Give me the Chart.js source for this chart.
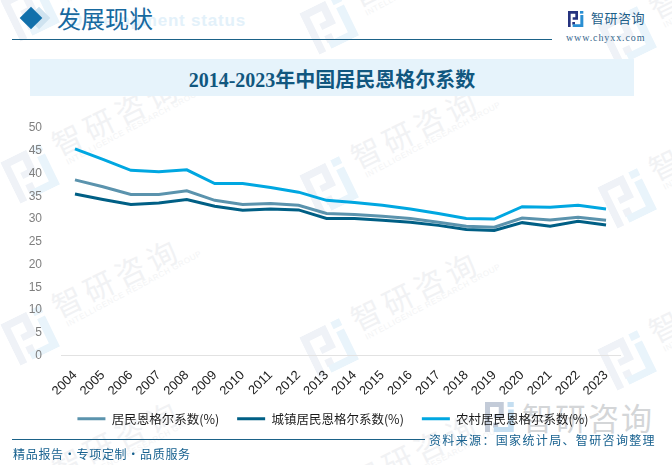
<!DOCTYPE html>
<html>
<head>
<meta charset="utf-8">
<script src="https://cdn.jsdelivr.net/npm/chart.js@4"></script>
<style>
	html, body { margin: 0; padding: 0; background: #fff; }
	#page { position: relative; width: 672px; height: 465px; overflow: hidden; font-family: "Noto Sans CJK SC", sans-serif; }
	#page div, #page svg { position: absolute; white-space: nowrap; }
	canvas { position: absolute; left: 0; top: 0; }

	/* watermark */
	.mark { color: #f1f2f4; font-size: 30px; line-height: 30px; letter-spacing: 5px; transform: rotate(-26deg); transform-origin: left center; }
	.mark-en { color: #f3f4f5; font: 8px/10px "Liberation Sans"; letter-spacing: 0.6px; transform: rotate(-28deg); transform-origin: left center; }

	/* header */
	#head-en { left: 70px; top: 11px; font: bold 17px "Liberation Sans"; color: #e3f1fa; letter-spacing: 0.8px; }
	#head-cn { left: 57px; top: 1px; font-size: 24px; line-height: 34px; color: #17699f; }
	#d1 { left: 31px; top: 10px; width: 16px; height: 16px; background: #cfe3f0; transform: rotate(45deg); }
	#d2 { left: 23px; top: 10px; width: 16px; height: 16px; background: #1270ab; transform: rotate(45deg); }
	#head-line { left: 12px; top: 39px; width: 540px; height: 1px; background: #1b6288; }
	#title-box { left: 30px; top: 59px; width: 604px; height: 37px; background: #e6f3fb; }
	#title { left: 30px; top: 62px; width: 604px; text-align: center; font: bold 20px/37px "Liberation Serif", "Noto Sans CJK SC"; color: #11577f; }

	/* logo */
	#logo-t { left: 591px; top: 8px; font-size: 13px; line-height: 20px; letter-spacing: 0.5px; color: #1e5f8a; }
	#logo-u { left: 566px; top: 31px; font: 10px/14px "Liberation Serif"; letter-spacing: 0.9px; color: #35668c; }

	/* footer */
	#foot-line1 { left: 12px; top: 439px; width: 413px; height: 1px; background: #1b6288; }
	#foot-left { left: 13px; top: 445px; font-size: 12px; line-height: 18px; color: #17618f; letter-spacing: 0.7px; }
	#foot-right { left: 429px; top: 431px; font-size: 12px; line-height: 18px; color: #17618f; letter-spacing: 1.35px; }
	#big-mark { left: 522px; top: 397px; font-size: 31px; line-height: 40px; letter-spacing: 2px; color: #d4d6d8; }
</style>
</head>
<body>
<div id="page">
	<div id="marks"></div>

	<div id="big-logo"></div>
	<div id="big-mark">智研咨询</div>

	<div id="head-en">Development status</div>
	<div id="d1"></div>
	<div id="d2"></div>
	<div id="head-cn">发展现状</div>
	<div id="head-line"></div>
	<div id="top-logo"></div>
	<div id="logo-t">智研咨询</div>
	<div id="logo-u">www.chyxx.com</div>
	<div id="title-box"></div>
	<div id="title">2014-2023年中国居民恩格尔系数</div>

	<canvas id="engelChart" width="672" height="465"></canvas>

	<div id="foot-line1"></div>
	<div id="foot-left">精品报告·专项定制·品质服务</div>
	<div id="foot-right">资料来源：国家统计局、智研咨询整理</div>
</div>

<script>
// 연도
const years = ["2004", "2005", "2006", "2007", "2008", "2009", "2010", "2011", "2012", "2013",
	"2014", "2015", "2016", "2017", "2018", "2019", "2020", "2021", "2022", "2023"];

// 그림에서 읽은 값 (%)
const overallValues = [38.6, 37.1, 35.4, 35.4, 36.2, 34.1, 33.2, 33.4, 33.0, 31.2,
	31.0, 30.6, 30.1, 29.3, 28.4, 28.2, 30.2, 29.8, 30.4, 29.7];
const urbanValues = [35.5, 34.3, 33.2, 33.5, 34.3, 32.8, 31.9, 32.2, 32.0, 30.1,
	30.1, 29.7, 29.3, 28.6, 27.7, 27.5, 29.2, 28.4, 29.5, 28.7];
const ruralValues = [45.4, 43.1, 40.7, 40.4, 40.8, 37.8, 37.8, 36.9, 35.9, 34.1,
	33.6, 33.0, 32.2, 31.2, 30.1, 30.0, 32.7, 32.6, 33.0, 32.2];

const seriesNames = ["居民恩格尔系数(%)", "城镇居民恩格尔系数(%)", "农村居民恩格尔系数(%)"];
const yTicks = [0, 5, 10, 15, 20, 25, 30, 35, 40, 45, 50];

// logo svg
const logoSvg = (x, y, size, rotate, colorA, colorB) => `
	<svg style="left:${x}px;top:${y}px;transform:rotate(${rotate}deg)" width="${size}" height="${size}" viewBox="0 0 48 48">
		<path fill="${colorA}" d="M0 0H30V26H14V19H22V8H8V48H0Z"/>
		<rect fill="${colorA}" x="13" y="33" width="8" height="8"/>
		<rect fill="${colorB}" x="36" y="0" width="10" height="8"/>
		<path fill="${colorB}" d="M37 12H46V48H14V40H37Z"/>
	</svg>`;

// background watermark (智 글자 위치 기준)
const markCols = [[53, 145], [352, 158], [650, 170]];
const markRows = [-162, 0, 162, 324];
let marksHtml = "";
markCols.forEach((col) => {
	markRows.forEach((rowGap) => {
		const x = col[0];
		const y = col[1] + rowGap;
		marksHtml += logoSvg(x - 45, y + 5, 46, -26, "#eff2f7", "#e9f4fb");
		marksHtml += `<div class="mark" style="left:${x}px;top:${y - 15}px">智研咨询</div>`;
		marksHtml += `<div class="mark-en" style="left:${x + 14}px;top:${y + 13}px">INTELLIGENCE RESEARCH GROUP</div>`;
	});
});
document.getElementById("marks").innerHTML = marksHtml;
document.getElementById("top-logo").innerHTML = logoSvg(568, 11, 16, 0, "#26337f", "#2a8fd3");
document.getElementById("big-logo").innerHTML = logoSvg(485, 402, 30, 0, "#c3cbd8", "#c4def1");

const makeLine = (label, data, color) => ({
	label: label,
	data: data,
	borderColor: color,
	backgroundColor: color,
	borderWidth: 3,
	pointRadius: 0,
	tension: 0
});

// 범례를 원본 위치로 이동
const legendShift = {
	id: "legendShift",
	afterLayout: (chart) => {
		chart.legend.left += 23;
		chart.legend.right += 23;
	}
};

new Chart(document.getElementById("engelChart"), {
	type: "line",
	plugins: [legendShift],
	data: {
		labels: years,
		datasets: [
			makeLine(seriesNames[1], urbanValues, "#005f85"),
			makeLine(seriesNames[0], overallValues, "#5b93ad"),
			makeLine(seriesNames[2], ruralValues, "#00a7e1")
		]
	},
	options: {
		responsive: false,
		animation: false,
		layout: { padding: { top: 128, right: 52, bottom: 30, left: 0 } },
		plugins: {
			tooltip: { enabled: false },
			legend: {
				position: "bottom",
				// 원본 순서대로
				labels: {
					sort: (a, b) => seriesNames.indexOf(a.text) - seriesNames.indexOf(b.text),
					usePointStyle: true,
					pointStyle: "line",
					pointStyleWidth: 28,
					boxHeight: 12,
					padding: 18,
					color: "#1a1a1a",
					font: { family: "'Noto Sans CJK SC'", size: 12.5 }
				}
			}
		},
		scales: {
			x: {
				offset: true,
				grid: { display: false },
				border: { color: "#e2e2e2" },
				afterFit: (scale) => { scale.height = 39; },
				ticks: {
					autoSkip: false,
					maxRotation: 45,
					minRotation: 45,
					color: "#222222",
					padding: 4,
					font: { family: "'Liberation Sans'", size: 13 }
				}
			},
			y: {
				min: 0,
				max: 50,
				afterBuildTicks: (scale) => { scale.ticks = yTicks.map((v) => ({ value: v })); },
				afterFit: (scale) => { scale.width = 61; },
				grid: { display: false },
				border: { display: false },
				ticks: {
					color: "#7f7f7f",
					padding: 11,
					font: { family: "'Liberation Sans'", size: 12 }
				}
			}
		}
	}
});
</script>
</body>
</html>
